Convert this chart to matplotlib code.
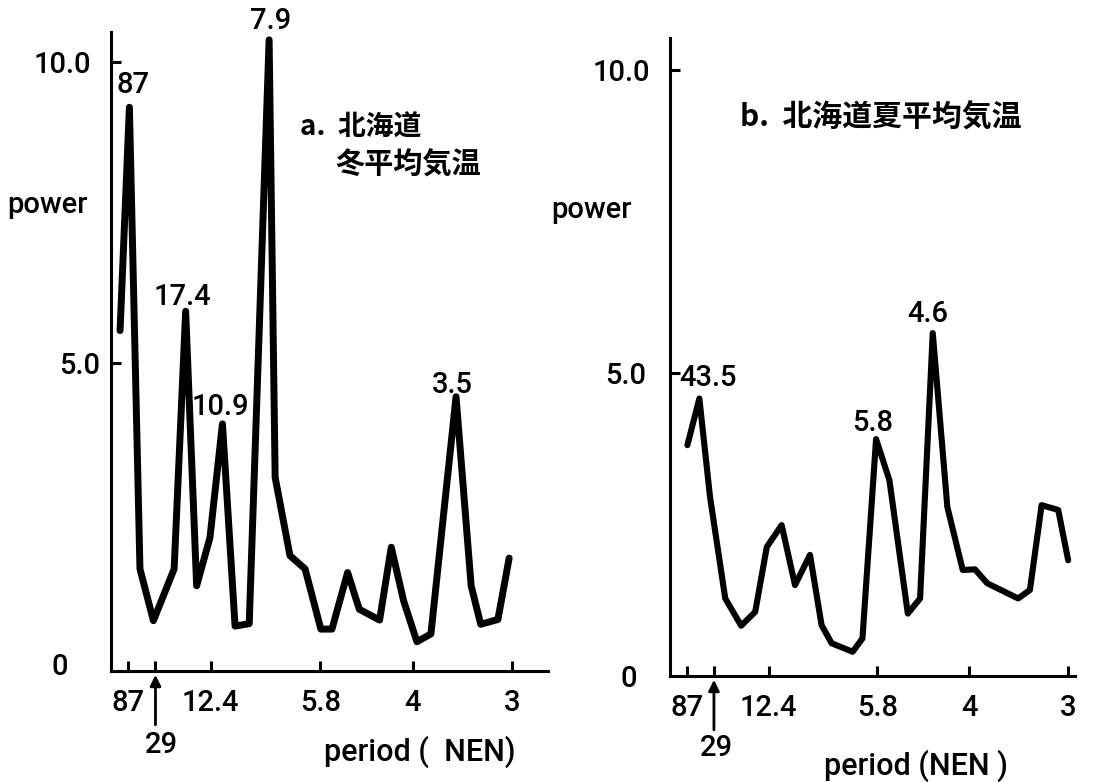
#!/usr/bin/env python

### Import modules ###
#
import matplotlib
matplotlib.use('Agg')
import matplotlib.pyplot as plt
from matplotlib import font_manager

### Data ###
#
# x axis is frequency index k, period (NEN) = 87 / k
n_years = 87
periods = [87, 29, 12.4, 5.8, 4, 3]
period_labels = ['87', '', '12.4', '5.8', '4', '3']
arrow_label = '29'
power_ticks = [0, 5, 10]
power_labels = ['0', '5.0', '10.0']

# a. Hokkaido winter mean temperature
k_win = [0.42, 1.1, 1.87, 2.85, 4.36, 5.2, 6.0, 6.97, 7.88, 8.8, 9.83,
         11.28, 11.72, 12.8, 13.9, 15.05, 15.86, 17.0, 17.85, 19.33, 20.18,
         21.08, 22.05, 23.07, 24.9, 26.0, 26.7, 27.95, 28.77]
p_win = [5.54, 9.25, 1.58, 0.72, 1.58, 5.86, 1.30, 2.10, 3.99, 0.63, 0.67,
         10.37, 3.10, 1.80, 1.58, 0.58, 0.58, 1.52, 0.91, 0.73, 1.94,
         1.05, 0.37, 0.50, 4.44, 1.30, 0.66, 0.74, 1.76]
peaks_win = {1: '87', 5: '17.4', 8: '10.9', 11: '7.9', 24: '3.5'}
title_win = ['a.  北海道', '冬平均気温']

# b. Hokkaido summer mean temperature
k_sum = [1.05, 1.93, 2.71, 3.83, 5.0, 6.03, 6.88, 7.97, 8.95, 10.05, 10.9,
         11.64, 13.18, 13.9, 14.9, 15.88, 17.23, 18.13, 19.06, 20.13, 21.26,
         22.16, 23.06, 25.33, 26.19, 27.05, 28.27, 29.0]
p_sum = [3.81, 4.58, 2.96, 1.28, 0.83, 1.06, 2.13, 2.49, 1.50, 2.00, 0.84,
         0.54, 0.40, 0.62, 3.91, 3.23, 1.03, 1.28, 5.66, 2.79, 1.75,
         1.76, 1.53, 1.28, 1.42, 2.82, 2.74, 1.91]
peaks_sum = {1: '43.5', 14: '5.8', 18: '4.6'}
title_sum = 'b.  北海道夏平均気温'

### Fonts ###
#
installed = {f.name for f in font_manager.fontManager.ttflist}
latin = 'Roboto' if 'Roboto' in installed else 'Liberation Sans'
cjk_font = ['Noto Sans CJK JP', 'DejaVu Sans']
plt.rcParams['font.family'] = [latin, 'DejaVu Sans']
plt.rcParams['font.weight'] = 'medium'
plt.rcParams['axes.labelweight'] = 'medium'

W, H = 1101, 782
fig = plt.figure(figsize=(W / 100, H / 100), dpi=100)
fig.patch.set_facecolor('white')


def px_axes(left, top, right, bottom):
    return fig.add_axes([left / W, 1 - bottom / H, (right - left) / W, (bottom - top) / H])


def style_axes(ax, xlim, ylim, ypads, label_xy):
    ax.set_xlim(*xlim)
    ax.set_ylim(*ylim)
    for s in ('top', 'right'):
        ax.spines[s].set_visible(False)
    for s in ('left', 'bottom'):
        ax.spines[s].set_linewidth(2.2)
    ax.set_xticks([n_years / p for p in periods])
    ax.set_xticklabels(period_labels)
    ax.set_yticks(power_ticks)
    ax.set_yticklabels(power_labels)
    ax.tick_params(direction='in', length=7, width=2.2, labelsize=21, pad=13)
    for tick, pad in zip(ax.yaxis.get_major_ticks(), ypads):
        tick.set_pad(pad)
    ax.yaxis.get_major_ticks()[0].tick1line.set_visible(False)
    ax.set_ylabel('power', rotation=0, fontsize=21, ha='center', va='center')
    ax.yaxis.set_label_coords(*label_xy)
    # arrow pointing at the 29 year tick
    ax.annotate('', xy=(n_years / 29, -0.006), xycoords=('data', 'axes fraction'),
                xytext=(0, -36), textcoords='offset points',
                arrowprops=dict(arrowstyle='-|>', lw=2, color='k', mutation_scale=16,
                                shrinkA=0, shrinkB=0))


def peak_labels(ax, k, p, peaks, offsets):
    for (i, txt), (dx, dy) in zip(peaks.items(), offsets):
        ax.annotate(txt, xy=(k[i], p[i]), xytext=(dx * 0.72, dy * 0.72),
                    textcoords='offset points', ha='center', va='center_baseline',
                    fontsize=21)


### Panel a ###
#
ax_a = px_axes(111, 32, 548, 671)
style_axes(ax_a, (-0.24, 31.6), (-0.116, 10.5), [31, 8, 14], (-0.145, 0.729))
ax_a.plot(k_win, p_win, color='k', lw=5, solid_joinstyle='round', solid_capstyle='round')
peak_labels(ax_a, k_win, p_win, peaks_win, [(4, 25), (-3, 17), (-2, 20), (2, 22), (-4, 15)])
fig.text(161 / W, 1 - 745 / H, arrow_label, ha='center', va='center', fontsize=21)
fig.text(420 / W, 1 - 752 / H, 'period (  NEN)', ha='center', va='center', fontsize=22)
fig.text(300 / W, 1 - 128 / H, title_win[0], ha='left', va='center', fontsize=20,
         family=cjk_font, weight='bold')
fig.text(335 / W, 1 - 165 / H, title_win[1], ha='left', va='center', fontsize=21,
         family=cjk_font, weight='bold')

### Panel b ###
#
ax_b = px_axes(670, 38, 1075, 676)
style_axes(ax_b, (-0.225, 29.5), (0, 10.53), [24, 17, 14], (-0.193, 0.730))
ax_b.plot(k_sum, p_sum, color='k', lw=4.4, solid_joinstyle='round', solid_capstyle='round')
peak_labels(ax_b, k_sum, p_sum, peaks_sum, [(9, 24), (-3, 19), (-5, 22)])
fig.text(716 / W, 1 - 748 / H, arrow_label, ha='center', va='center', fontsize=21)
fig.text(916 / W, 1 - 766 / H, 'period (NEN )', ha='center', va='center', fontsize=22)
fig.text(740 / W, 1 - 118 / H, title_sum, ha='left', va='center', fontsize=21.5,
         family=cjk_font, weight='bold')

fig.savefig('out.png', dpi=100, facecolor='white')
